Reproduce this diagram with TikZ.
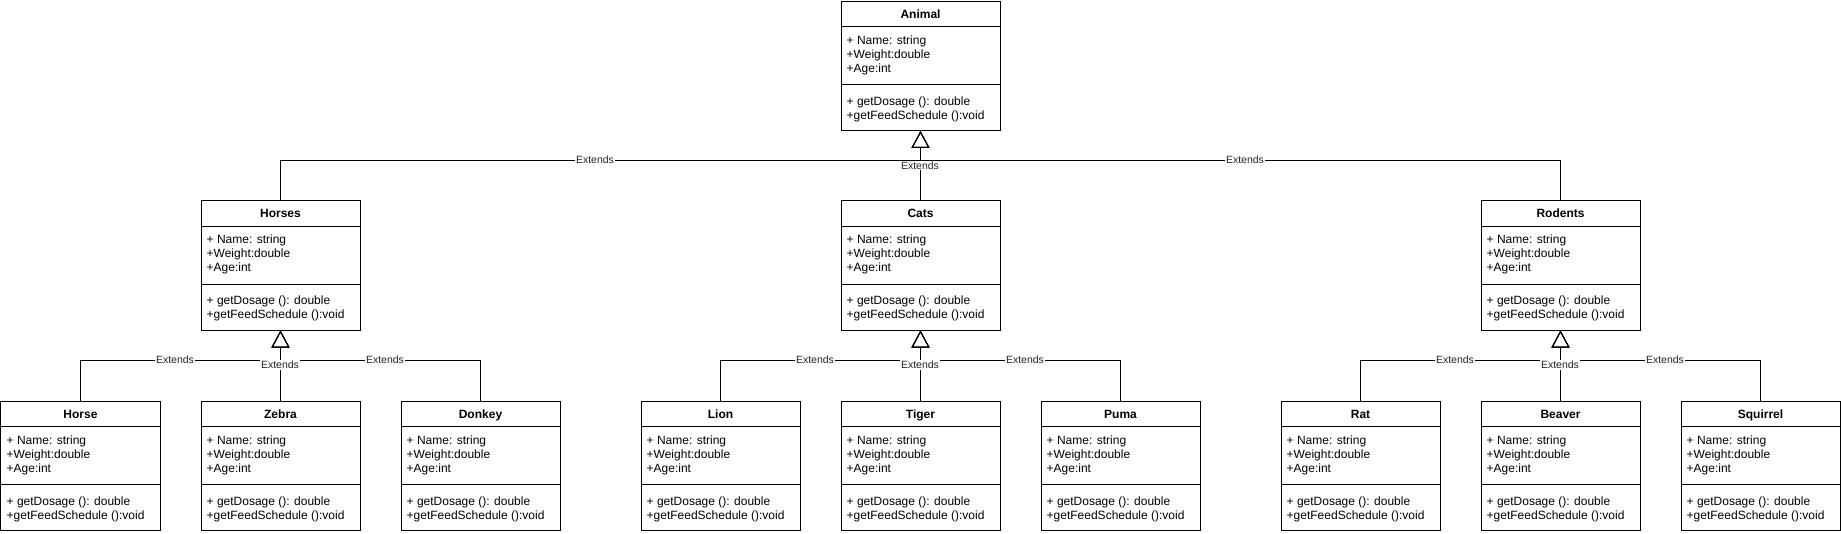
\documentclass[tikz,border=0pt]{standalone}
\usepackage{fontspec}
\setmainfont{Liberation Sans}
\usetikzlibrary{arrows.meta,calc}
\tikzset{
  clsbox/.style={draw=black,line width=1bp,fill=white,minimum width=159bp,minimum height=129bp,inner sep=0pt,anchor=north west},
  clsline/.style={draw=black,line width=1bp},
  clstitle/.style={font=\fontsize{12bp}{14bp}\selectfont\bfseries,inner sep=0pt,anchor=base},
  clstext/.style={font=\fontsize{12bp}{14bp}\selectfont,inner sep=0pt,anchor=base west},
  extline/.style={draw=black,line width=1bp,-{Triangle[open,length=17bp,width=18bp,line width=1bp]}},
  extlbl/.style={font=\fontsize{10.5bp}{12bp}\selectfont,fill=white,inner sep=1bp,text=black!85},
}
\newcommand\umlcls[4]{%
  \node[clsbox] (#1) at (#2,#3) {};
  \draw[clsline] ($(#1.north west)+(0,26)$) -- ($(#1.north east)+(0,26)$);
  \draw[clsline] ($(#1.north west)+(0,84)$) -- ($(#1.north east)+(0,84)$);
  \node[clstitle] (#1-t) at ($(#1.north)+(0,17.5)$) {#4};
  \node[clstext] (#1-a1) at ($(#1.north west)+(6,43.5)$) {+ Name: string};
  \node[clstext] (#1-a2) at ($(#1.north west)+(6,57.5)$) {+Weight:double};
  \node[clstext] (#1-a3) at ($(#1.north west)+(6,71.5)$) {+Age:int};
  \node[clstext] (#1-m1) at ($(#1.north west)+(6,104.5)$) {+ getDosage (): double};
  \node[clstext] (#1-m2) at ($(#1.north west)+(6,118.5)$) {+getFeedSchedule ():void};
}
\newcommand\extends[2]{%
  \draw[extline] (#1.north) |- ($(#2.south)+(0,30)$) -- (#2.south);
}
\begin{document}
\begin{tikzpicture}[x=1bp,y=-1bp]
\useasboundingbox (0,0) rectangle (1841,534);
\fill[white] (0,0) rectangle (1841,534);
% classes
\umlcls{animal}{840.5}{1}{Animal}
\umlcls{horses}{200.5}{200.5}{Horses}
\umlcls{cats}{840.5}{200.5}{Cats}
\umlcls{rodents}{1480.5}{200.5}{Rodents}
\umlcls{horse}{0.5}{400.5}{Horse}
\umlcls{zebra}{200.5}{400.5}{Zebra}
\umlcls{donkey}{400.5}{400.5}{Donkey}
\umlcls{lion}{640.5}{400.5}{Lion}
\umlcls{tiger}{840.5}{400.5}{Tiger}
\umlcls{puma}{1040.5}{400.5}{Puma}
\umlcls{rat}{1280.5}{400.5}{Rat}
\umlcls{beaver}{1480.5}{400.5}{Beaver}
\umlcls{squirrel}{1680.5}{400.5}{Squirrel}
% connectors
\extends{horses}{animal}
\extends{cats}{animal}
\extends{rodents}{animal}
\extends{horse}{horses}
\extends{zebra}{horses}
\extends{donkey}{horses}
\extends{lion}{cats}
\extends{tiger}{cats}
\extends{puma}{cats}
\extends{rat}{rodents}
\extends{beaver}{rodents}
\extends{squirrel}{rodents}
% labels
\node[extlbl] (e1) at (595,160) {Extends};
\node[extlbl] (e2) at (920,165.5) {Extends};
\node[extlbl] (e3) at (1245,160) {Extends};
\node[extlbl] (e4) at (175,359.5) {Extends};
\node[extlbl] (e5) at (280,365) {Extends};
\node[extlbl] (e6) at (385,359.5) {Extends};
\node[extlbl] (e7) at (815,359.5) {Extends};
\node[extlbl] (e8) at (920,365) {Extends};
\node[extlbl] (e9) at (1025,359.5) {Extends};
\node[extlbl] (e10) at (1455,359.5) {Extends};
\node[extlbl] (e11) at (1560,365) {Extends};
\node[extlbl] (e12) at (1665,359.5) {Extends};
\end{tikzpicture}
\end{document}
